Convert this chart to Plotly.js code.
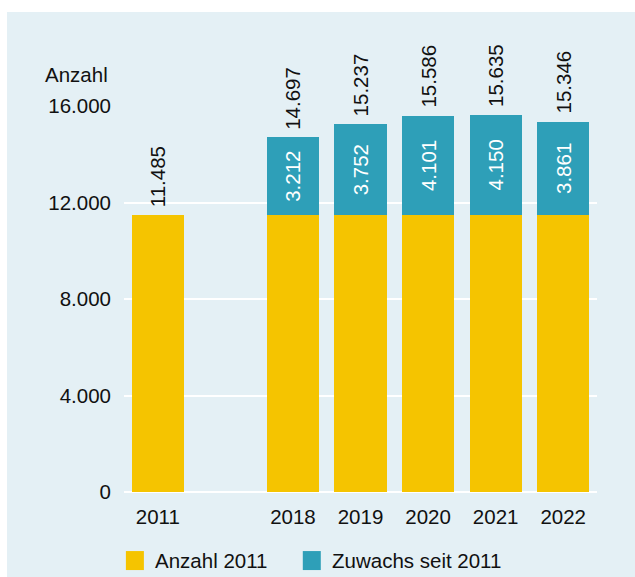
<!DOCTYPE html>
<html>
<head>
<meta charset="utf-8">
<script src="https://cdn.plot.ly/plotly-3.0.1.min.js"></script>
<style>
  html, body { margin: 0; padding: 0; background: #ffffff; }
  #chart { position: absolute; left: 7px; top: 12px; width: 628px; height: 565px; }
</style>
</head>
<body>
<div id="chart"></div>
<script>
// Categories (the blank one is the gap between 2011 and 2018)
const categories = ['2011', ' ', '2018', '2019', '2020', '2021', '2022'];
const baseYears = ['2011', '2018', '2019', '2020', '2021', '2022'];
const baseValues = [11485, 11485, 11485, 11485, 11485, 11485];
const growthYears = ['2018', '2019', '2020', '2021', '2022'];
const growthValues = [3212, 3752, 4101, 4150, 3861];
const totalYears = ['2011', '2018', '2019', '2020', '2021', '2022'];
const totalValues = [11485, 14697, 15237, 15586, 15635, 15346];
const seriesNames = ['Anzahl 2011', 'Zuwachs seit 2011'];
const yTicks = [0, 4000, 8000, 12000, 16000];
const yAxisLabel = 'Anzahl';

const colYellow = '#f5c400';
const colTeal = '#2e9fb8';
const bg = '#e4f0f5';
const txt = '#111111';
const font = 'Liberation Sans, Arial, sans-serif';
const fs = 20.5;

function fmt(v) { return String(v).replace(/\B(?=(\d{3})+(?!\d))/g, '.'); }

const traces = [
  {
    type: 'bar', name: seriesNames[0], x: baseYears, y: baseValues,
    marker: { color: colYellow }, hoverinfo: 'skip', showlegend: false
  },
  {
    type: 'bar', name: seriesNames[1], x: growthYears, y: growthValues,
    marker: { color: colTeal },
    text: growthValues.map(fmt), textposition: 'inside', insidetextanchor: 'middle',
    textangle: -90, textfont: { color: '#ffffff', size: fs, family: font },
    hoverinfo: 'skip', showlegend: false
  }
];

const annotations = totalYears.map((yr, i) => ({
  x: categories.indexOf(yr), y: totalValues[i], xref: 'x', yref: 'y',
  text: fmt(totalValues[i]), textangle: -90, showarrow: false,
  xanchor: 'center', yanchor: 'bottom', yshift: 6,
  font: { size: fs, color: txt, family: font }
}));

annotations.push({
  x: 0, xref: 'paper', xanchor: 'right', xshift: -14,
  y: 1, yref: 'paper', yanchor: 'bottom', yshift: 18,
  text: yAxisLabel, showarrow: false,
  font: { size: fs, color: txt, family: font }
});

// custom legend
const legendColors = [colYellow, colTeal];
const legendX = [0.004, 0.378];
const shapes = [];
seriesNames.forEach((n, i) => {
  shapes.push({
    type: 'rect', xref: 'paper', yref: 'paper',
    x0: legendX[i], x1: legendX[i] + 18 / 473,
    y0: -0.153, y1: -0.153 - 19 / 386,
    fillcolor: legendColors[i], line: { width: 0 }
  });
  annotations.push({
    x: legendX[i] + 27 / 473, xref: 'paper', xanchor: 'left',
    y: -0.153 - 9.5 / 386, yref: 'paper', yanchor: 'middle',
    text: n, showarrow: false,
    font: { size: fs, color: txt, family: font }
  });
});

const layout = {
  width: 628, height: 565,
  margin: { l: 117, r: 38, t: 94, b: 85 },
  paper_bgcolor: bg, plot_bgcolor: bg,
  barmode: 'stack', bargap: 0.23,
  separators: ',.',
  showlegend: false,
  font: { family: font, size: fs, color: txt },
  xaxis: {
    type: 'category', categoryorder: 'array', categoryarray: categories,
    range: [-0.5, 6.5], showgrid: false, zeroline: false, showline: false,
    ticks: '', tickfont: { size: fs, family: font, color: txt },
    ticklabelstandoff: 10, fixedrange: true
  },
  yaxis: {
    range: [0, 16000], tickmode: 'array', tickvals: yTicks,
    ticktext: yTicks.map(fmt),
    showgrid: true, gridcolor: '#ffffff', gridwidth: 2,
    zeroline: true, zerolinecolor: '#ffffff', zerolinewidth: 2,
    showline: false, ticks: '', ticklabelstandoff: 12,
    tickfont: { size: fs, family: font, color: txt }, fixedrange: true
  },
  annotations: annotations,
  shapes: shapes
};

traces.forEach(t => t.cliponaxis = false);
Plotly.newPlot('chart', traces, layout, { displayModeBar: false, staticPlot: true });
</script>
</body>
</html>
